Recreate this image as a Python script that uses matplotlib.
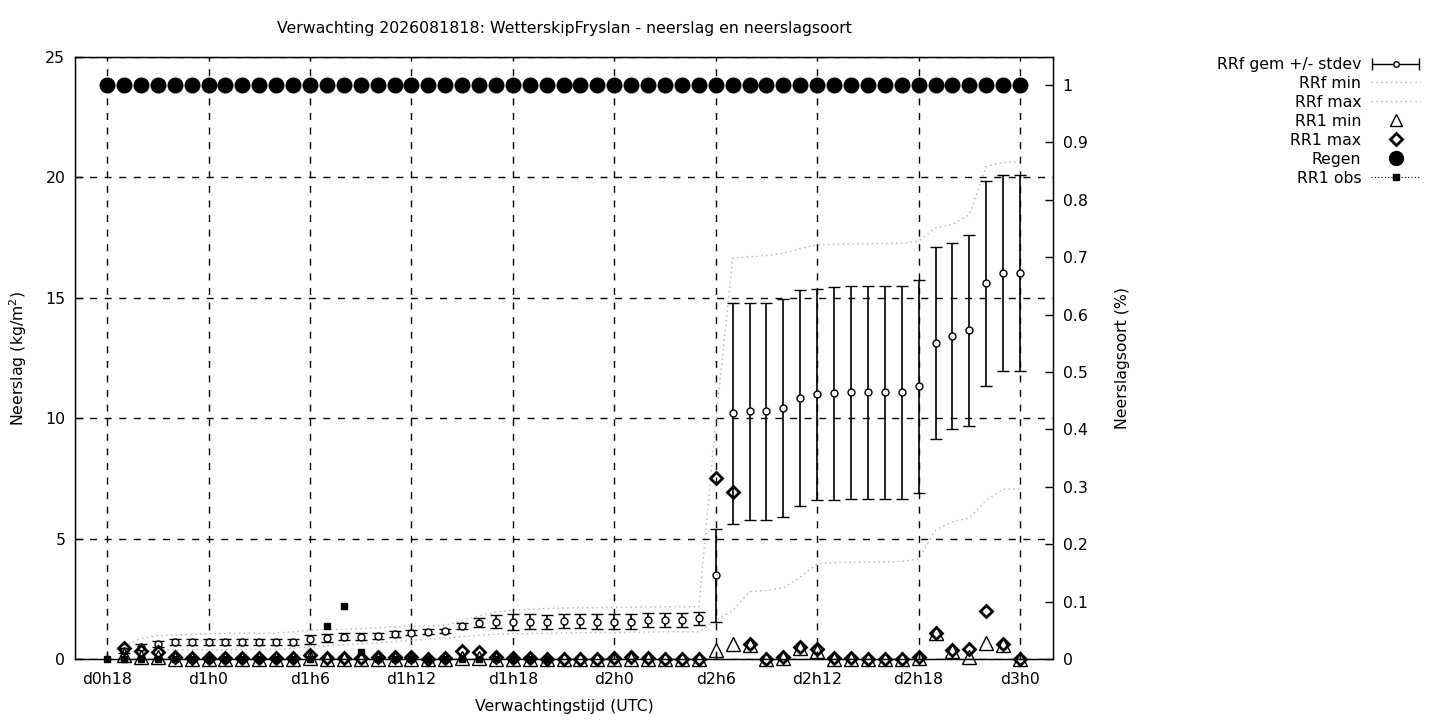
import numpy as np
import matplotlib.pyplot as plt
from matplotlib.lines import Line2D
from matplotlib.container import ErrorbarContainer
from matplotlib.legend_handler import HandlerErrorbar

plt.rcParams['font.family'] = ['DejaVu Sans']
plt.rcParams['font.size'] = 11.3

title = "Verwachting 2026081818: WetterskipFryslan - neerslag en neerslagsoort"

# forecast hours (19 .. 72) for the ensemble values
rr_hours = list(range(19, 73))

rrf_mean = [0.35, 0.50, 0.62, 0.69, 0.69,
            0.69, 0.69, 0.69, 0.69, 0.69, 0.72,
            0.81, 0.87, 0.93, 0.93, 0.97, 1.04,
            1.10, 1.13, 1.16, 1.37, 1.51, 1.55,
            1.55, 1.55, 1.53, 1.58, 1.58, 1.55,
            1.55, 1.55, 1.62, 1.62, 1.62, 1.69,
            3.47, 10.20, 10.29, 10.29, 10.41, 10.83,
            11.00, 11.03, 11.07, 11.07, 11.07, 11.07,
            11.32, 13.12, 13.41, 13.65, 15.61, 16.02,
            16.02]

rrf_std = [0.10, 0.12, 0.12, 0.12, 0.12,
           0.12, 0.12, 0.12, 0.12, 0.12, 0.13,
           0.18, 0.18, 0.15, 0.15, 0.13, 0.12,
           0.12, 0.10, 0.10, 0.12, 0.20, 0.28,
           0.33, 0.30, 0.30, 0.30, 0.30, 0.30,
           0.30, 0.30, 0.30, 0.30, 0.30, 0.28,
           1.93, 4.60, 4.50, 4.50, 4.53, 4.48,
           4.38, 4.42, 4.41, 4.41, 4.41, 4.41,
           4.41, 4.00, 3.87, 3.97, 4.26, 4.08,
           4.08]

rrf_min = [0.25, 0.35, 0.37, 0.38, 0.38,
           0.38, 0.39, 0.40, 0.40, 0.40, 0.45,
           0.50, 0.55, 0.60, 0.63, 0.67, 0.72,
           0.77, 0.82, 0.86, 0.93, 0.98, 1.03,
           1.05, 1.06, 1.07, 1.08, 1.09, 1.10,
           1.10, 1.11, 1.12, 1.13, 1.13, 1.13,
           1.60, 2.00, 2.80, 2.85, 2.95, 3.40,
           3.95, 4.00, 4.02, 4.03, 4.04, 4.05,
           4.15, 5.35, 5.70, 5.85, 6.60, 7.05,
           7.06]

rrf_max = [0.55, 0.85, 0.97, 1.00, 1.02,
           1.05, 1.06, 1.07, 1.07, 1.08, 1.13,
           1.20, 1.22, 1.23, 1.26, 1.30, 1.33,
           1.36, 1.37, 1.40, 1.60, 1.80, 1.95,
           2.03, 2.06, 2.10, 2.12, 2.13, 2.13,
           2.14, 2.15, 2.16, 2.17, 2.17, 2.17,
           9.80, 16.65, 16.70, 16.75, 16.85, 17.05,
           17.20, 17.22, 17.24, 17.25, 17.25, 17.27,
           17.35, 17.90, 18.05, 18.45, 20.45, 20.62,
           20.64]

rr1_min = [0.15, 0.08, 0.10, 0.02, 0.00,
           0.00, 0.00, 0.00, 0.00, 0.00, 0.00,
           0.05, 0.00, 0.00, 0.00, 0.00, 0.00,
           0.00, 0.00, 0.00, 0.05, 0.05, 0.00,
           0.00, 0.00, 0.00, 0.00, 0.00, 0.00,
           0.00, 0.00, 0.00, 0.00, 0.00, 0.00,
           0.37, 0.62, 0.60, 0.00, 0.05, 0.45,
           0.33, 0.00, 0.00, 0.00, 0.00, 0.00,
           0.05, 1.08, 0.35, 0.08, 0.65, 0.58,
           0.00]

rr1_max = [0.45, 0.33, 0.28, 0.10, 0.03,
           0.03, 0.05, 0.04, 0.05, 0.05, 0.05,
           0.15, 0.03, 0.05, 0.03, 0.10, 0.08,
           0.08, 0.02, 0.03, 0.33, 0.27, 0.10,
           0.03, 0.03, 0.00, 0.02, 0.02, 0.02,
           0.03, 0.10, 0.05, 0.02, 0.00, 0.00,
           7.52, 6.93, 0.62, 0.00, 0.10, 0.51,
           0.40, 0.05, 0.05, 0.00, 0.00, 0.00,
           0.10, 1.10, 0.37, 0.40, 2.00, 0.61,
           0.00]

# observed hourly rain (18 .. 44)
obs_hours = list(range(18, 45))
rr1_obs = [0, 0, 0, 0, 0, 0,
           0, 0, 0, 0, 0, 0,
           0, 1.37, 2.2, 0.29, 0, 0,
           0, 0, 0, 0, 0, 0,
           0, 0, 0]

# precipitation type (rain fraction) 18 .. 72
type_hours = list(range(18, 73))
regen = [1, 1, 1, 1, 1, 1, 1, 1, 1, 1, 1,
         1, 1, 1, 1, 1, 1, 1, 1, 1, 1, 1,
         1, 1, 1, 1, 1, 1, 1, 1, 1, 1, 1,
         1, 1, 1, 1, 1, 1, 1, 1, 1, 1, 1,
         1, 1, 1, 1, 1, 1, 1, 1, 1, 1, 1]

xtick_hours = [18, 24, 30, 36, 42, 48, 54, 60, 66, 72]
xtick_labels = ["d0h18", "d1h0", "d1h6", "d1h12", "d1h18",
                "d2h0", "d2h6", "d2h12", "d2h18", "d3h0"]
y2_ticks = [0, 0.1, 0.2, 0.3, 0.4, 0.5, 0.6, 0.7, 0.8, 0.9, 1.0]
y2_labels = ["0", "0.1", "0.2", "0.3", "0.4", "0.5", "0.6", "0.7", "0.8", "0.9", "1"]

W, H = 1440, 720
fig = plt.figure(figsize=(W / 100, H / 100), dpi=100)
ax = fig.add_axes([75 / W, 61 / H, 978 / W, 602 / H])

grey = '#b0b0b0'
dots = (0, (1, 2.5))
ax.plot(rr_hours, rrf_min, color=grey, ls=dots, lw=1.0, zorder=2)
ax.plot(rr_hours, rrf_max, color=grey, ls=dots, lw=1.0, zorder=2)
ax.errorbar(rr_hours, rrf_mean, yerr=rrf_std, fmt='o', ms=5, mfc='white', mec='black',
            mew=1, ecolor='black', elinewidth=1.2, capsize=4, capthick=1.2, zorder=3)
ax.plot(rr_hours, rr1_min, ls='none', marker='^', ms=9.5, mfc='none', mec='black', mew=1,
        zorder=4, clip_on=False)
ax.plot(rr_hours, rr1_max, ls='none', marker='D', ms=6, mfc='none', mec='black', mew=2,
        zorder=4, clip_on=False)
ax.plot(obs_hours, rr1_obs, ls='none', marker='s', ms=5, color='black', zorder=5, clip_on=False)

ax.set_xlim(16.1, 73.95)
ax.set_ylim(0, 25)
ax.set_xticks(xtick_hours)
ax.set_xticklabels(xtick_labels)
ax.set_yticks([0, 5, 10, 15, 20, 25])
ax.grid(True, color='black', ls=(0, (5, 5.5)), lw=1)
ax.tick_params(direction='in', length=6, width=1, colors='black')
ax.tick_params(axis='x', pad=9)
ax.tick_params(axis='y', pad=7)
for s in ax.spines.values():
    s.set_linewidth(1)

ax2 = ax.twinx()
ax2.plot(type_hours, regen, ls='none', marker='o', ms=10.5, color='black')
ax2.set_ylim(0, 1.0488)
ax2.set_yticks(y2_ticks)
ax2.set_yticklabels(y2_labels)
ax2.tick_params(direction='in', length=6, width=1, pad=7)

fig.text(564 / W, 1 - 28 / H, title, ha='center', va='center')
fig.text(564 / W, 1 - 706 / H, "Verwachtingstijd (UTC)", ha='center', va='center')
fig.text(18 / W, 1 - 358 / H, "Neerslag (kg/m$^2$)", ha='center', va='center', rotation=90)
fig.text(1123 / W, 1 - 358 / H, "Neerslagsoort (%)", ha='center', va='center', rotation=90)

# legend with proxy artists, text right-aligned like gnuplot
eb_proxy = ax.errorbar([np.nan], [np.nan], xerr=[1.0], fmt='o', ms=4, mfc='white', mec='black',
                       mew=1, ecolor='black', elinewidth=1, capsize=4, capthick=1)
handles = [
    eb_proxy,
    Line2D([], [], color=grey, ls=dots, lw=1.0),
    Line2D([], [], color=grey, ls=dots, lw=1.0),
    Line2D([], [], ls='none', marker='^', ms=9, mfc='none', mec='black', mew=1),
    Line2D([], [], ls='none', marker='D', ms=6, mfc='none', mec='black', mew=2),
    Line2D([], [], ls='none', marker='o', ms=10, color='black'),
    Line2D([], [], color='black', ls=(0, (1, 2)), lw=0.8, marker='s', ms=5),
]
labels = ["RRf gem +/- stdev", "RRf min", "RRf max", "RR1 min", "RR1 max", "Regen", "RR1 obs"]
fig.legend(handles, labels, loc='upper right', bbox_to_anchor=(1420 / W, 1 - 57 / H),
           frameon=False, markerfirst=False, borderpad=0, borderaxespad=0,
           handlelength=3.1, handletextpad=0.65, labelspacing=0.25, numpoints=1,
           handler_map={ErrorbarContainer: HandlerErrorbar(xerr_size=1.5, numpoints=1)})

fig.savefig("out.png", dpi=100)
